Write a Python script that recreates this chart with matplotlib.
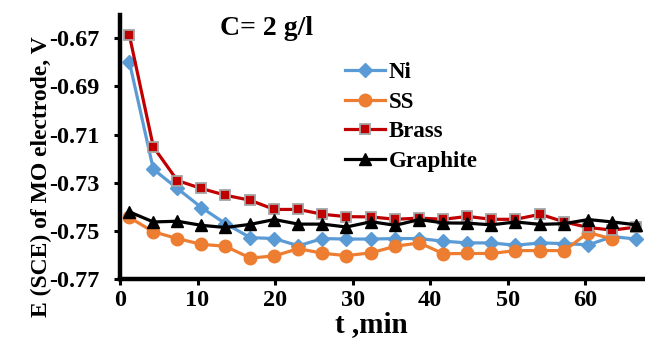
import matplotlib
matplotlib.use("Agg")
import matplotlib.pyplot as plt

plt.rcParams['font.family'] = ['Liberation Serif', 'DejaVu Serif']
plt.rcParams['font.weight'] = 'bold'
plt.rcParams['axes.unicode_minus'] = False

t = [1.2, 4.3, 7.4, 10.5, 13.6, 16.8, 19.9, 23.0, 26.1, 29.2, 32.4,
     35.5, 38.6, 41.7, 44.8, 47.9, 51.0, 54.2, 57.3, 60.4, 63.5, 66.6]

ni = [-0.6797, -0.7244, -0.7324, -0.7403, -0.7470, -0.7528, -0.7532, -0.7562,
      -0.7532, -0.7534, -0.7534, -0.7532, -0.7532, -0.7543, -0.7550, -0.7550,
      -0.7560, -0.7550, -0.7553, -0.7558, -0.7524, -0.7534]
ss = [-0.7444, -0.7504, -0.7532, -0.7556, -0.7564, -0.7613, -0.7604, -0.7574,
      -0.7593, -0.7603, -0.7591, -0.7564, -0.7550, -0.7595, -0.7594, -0.7594,
      -0.7582, -0.7582, -0.7582, -0.7507, -0.7534]
brass = [-0.6686, -0.7151, -0.7291, -0.7324, -0.7352, -0.7373, -0.7411, -0.7411,
         -0.7431, -0.7441, -0.7442, -0.7452, -0.7447, -0.7452, -0.7440, -0.7452,
         -0.7452, -0.7431, -0.7463, -0.7486, -0.7497, -0.7484]
graphite = [-0.7421, -0.7463, -0.7460, -0.7477, -0.7486, -0.7473, -0.7453, -0.7472,
            -0.7472, -0.7484, -0.7462, -0.7477, -0.7453, -0.7467, -0.7468, -0.7475,
            -0.7463, -0.7473, -0.7470, -0.7453, -0.7463, -0.7475]

xticks = [0, 10, 20, 30, 40, 50, 60]
yticks = [-0.77, -0.75, -0.73, -0.71, -0.69, -0.67]
ytick_labels = ['-0.77', '-0.75', '-0.73', '-0.71', '-0.69', '-0.67']

W, H = 645, 344
fig = plt.figure(figsize=(W / 100, H / 100), dpi=100)
ax = fig.add_axes([120 / W, (H - 279) / H, (W - 120) / W, (279 - 14.7) / H])

ax.plot(t, ni, color='#5B9BD5', lw=2.3, marker='D', ms=7, mec='#5B9BD5',
        mfc='#5B9BD5', label='Ni', zorder=3)
ax.plot(t[:len(ss)], ss, color='#ED7D31', lw=2.3, marker='o', ms=9, mec='#ED7D31',
        mfc='#ED7D31', label='SS', zorder=3)
ax.plot(t, brass, color='#C00000', lw=2.3, marker='s', ms=7.5, mec='#A5A5A5',
        mew=1.3, mfc='#C00000', label='Brass', zorder=4)
ax.plot(t, graphite, color='black', lw=2.3, marker='^', ms=8.5, mec='black',
        mfc='black', label='Graphite', zorder=5)

ax.set_xlim(0, 67.7)
ax.set_ylim(-0.77, -0.6602)
ax.set_xticks(xticks)
ax.set_xticklabels([str(v) for v in xticks])
ax.set_yticks(yticks)
ax.set_yticklabels(ytick_labels)

for s in ['top', 'right']:
    ax.spines[s].set_visible(False)
for s in ['left', 'bottom']:
    ax.spines[s].set_linewidth(3.2)
ax.tick_params(axis='both', direction='out', length=4.5, width=2.2,
               labelsize=17.5)
ax.tick_params(axis='y', pad=10)
ax.tick_params(axis='x', pad=3.5)
for lab in ax.get_xticklabels() + ax.get_yticklabels():
    lab.set_fontweight('bold')

fig.text(220 / W, 1 - 35 / H, 'C= 2 g/l', fontsize=20, fontweight='bold',
         ha='left', va='baseline')
fig.text(371 / W, 1 - 332 / H, 't ,min', fontsize=21, fontweight='bold',
         ha='center', va='baseline')
fig.text(41 / W, 1 - 177 / H, 'E (SCE) of MO electrode, V', fontsize=17,
         fontweight='bold', rotation=90, ha='center', va='center')

leg = ax.legend(loc='upper left', bbox_to_anchor=(345 / W, 1 - 62 / H),
                bbox_transform=fig.transFigure, frameon=False, fontsize=16.5,
                handlelength=1.75, handletextpad=0.15, labelspacing=0.37,
                borderpad=0, borderaxespad=0)
for txt in leg.get_texts():
    txt.set_fontweight('bold')

fig.savefig('out.png', dpi=100)
